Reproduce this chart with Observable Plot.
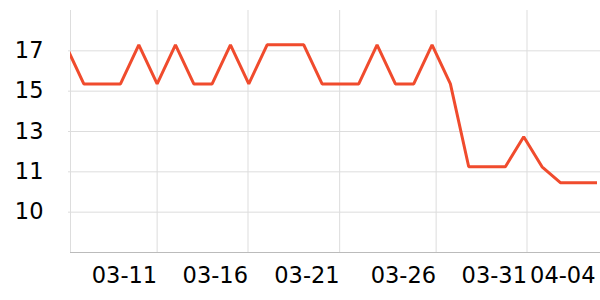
<!DOCTYPE html>
<html><head><meta charset="utf-8">
<script src="https://cdn.jsdelivr.net/npm/d3@7"></script>
<script src="https://cdn.jsdelivr.net/npm/@observablehq/plot@0.6"></script>
<style>html,body{margin:0;padding:0;background:#fff} svg{display:block}</style>
</head><body><div id="chart"></div>
<script>
const dates = [
  "2024-03-06","2024-03-07","2024-03-08","2024-03-09","2024-03-10","2024-03-11","2024-03-12",
  "2024-03-13","2024-03-14","2024-03-15","2024-03-16","2024-03-17","2024-03-18","2024-03-19",
  "2024-03-20","2024-03-21","2024-03-22","2024-03-23","2024-03-24","2024-03-25","2024-03-26",
  "2024-03-27","2024-03-28","2024-03-29","2024-03-30","2024-03-31","2024-04-01","2024-04-02",
  "2024-04-03","2024-04-04"
];
const values = [
  17.3, 15.36, 15.36, 15.36, 17.3, 15.36, 17.3,
  15.36, 15.36, 17.3, 15.36, 17.3, 17.3, 17.3,
  15.36, 15.36, 15.36, 17.3, 15.36, 15.36, 17.3,
  15.36, 11.25, 11.25, 11.25, 12.74, 11.25, 10.46,
  10.46, 10.46
];
const yTicks = [17, 15, 13, 11, 9];
const yTickLabels = ["17", "15", "13", "11", "10"];
const xTicks = ["2024-03-11T00:00Z","2024-03-15T23:00Z","2024-03-20T23:00Z","2024-03-26T05:20Z","2024-03-31T04:20Z","2024-04-03T22:00Z"];
const xTickLabels = ["03-11", "03-16", "03-21", "03-26", "03-31", "04-04"];
const xGridCount = 5;
const xDomain = ["2024-03-06T06:33Z", "2024-04-04T04:34Z"];
const yDomain = [7, 19];

const data = dates.map((d, i) => ({date: new Date(d + "T00:00Z"), value: values[i]}));
const xTickDates = xTicks.map(d => new Date(d));
const xLabelOf = d => xTickLabels[xTickDates.findIndex(t => +t === +d)];
const yLabelOf = d => yTickLabels[yTicks.indexOf(d)];

const chart = Plot.plot({
  width: 600,
  height: 300,
  marginLeft: 70,
  marginRight: 0,
  marginTop: 10,
  marginBottom: 48,
  style: {fontFamily: "DejaVu Sans", fontSize: "22.5px", background: "white", color: "black"},
  x: {type: "utc", domain: xDomain.map(d => new Date(d)), label: null},
  y: {domain: yDomain, label: null},
  marks: [
    Plot.gridY(yTicks, {stroke: "#dddddd", strokeOpacity: 1}),
    Plot.gridX(xTickDates.slice(0, xGridCount), {stroke: "#dddddd", strokeOpacity: 1}),
    Plot.frame({anchor: "left", stroke: "#dddddd"}),
    Plot.frame({anchor: "bottom", stroke: "#bbbbbb"}),
    Plot.axisY(yTicks, {tickFormat: yLabelOf, tickSize: 2, tickPadding: 25, stroke: "#dddddd", fill: "black", label: null}),
    Plot.axisX(xTickDates, {tickFormat: xLabelOf, tickSize: 0, tickPadding: 15, textAnchor: "end", fill: "black", label: null}),
    Plot.line(data, {x: "date", y: "value", stroke: "#F04B2D", strokeWidth: 3, strokeLinejoin: "miter", strokeLinecap: "butt", clip: true})
  ]
});
document.getElementById("chart").appendChild(chart);
</script>
</body></html>
